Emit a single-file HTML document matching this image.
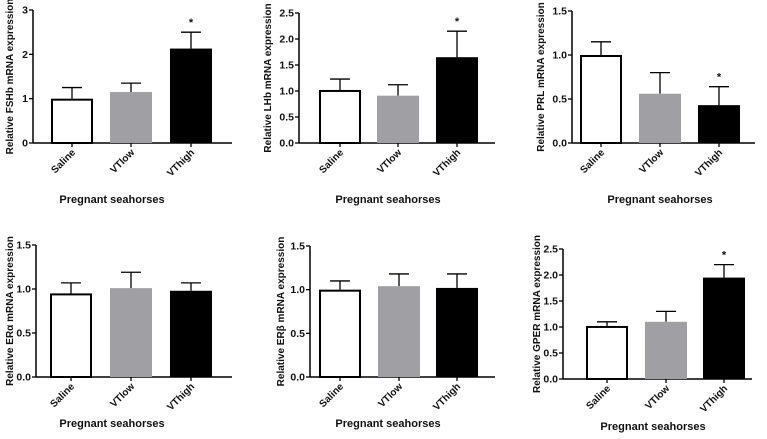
<!DOCTYPE html>
<html><head><meta charset="utf-8"><style>
body{margin:0;background:#fff;width:767px;height:434px;overflow:hidden}
svg text{font-family:"Liberation Sans",Arial,sans-serif;font-weight:bold;fill:#111}
</style></head><body>
<svg id="c" width="767" height="434"></svg>
<script>
const categories=["Saline","VTlow","VThigh"];
const fshbMeans=[1.0,1.15,2.13], fshbErr=[0.25,0.2,0.37], fshbStar=[0,0,1];
const lhbMeans=[1.02,0.91,1.65], lhbErr=[0.21,0.21,0.5], lhbStar=[0,0,1];
const prlMeans=[1.0,0.56,0.43], prlErr=[0.15,0.24,0.21], prlStar=[0,0,1];
const eraMeans=[0.95,1.01,0.98], eraErr=[0.12,0.18,0.09], eraStar=[0,0,0];
const erbMeans=[1.0,1.04,1.02], erbErr=[0.1,0.14,0.16], erbStar=[0,0,0];
const gperMeans=[1.02,1.1,1.95], gperErr=[0.08,0.2,0.25], gperStar=[0,0,1];
const fshbTicks=["0","1","2","3"];
const lhbTicks=["0.0","0.5","1.0","1.5","2.0","2.5"];
const prlTicks=["0.0","0.5","1.0","1.5"];
const eraTicks=["0.0","0.5","1.0","1.5"];
const erbTicks=["0.0","0.5","1.0","1.5"];
const gperTicks=["0.0","0.5","1.0","1.5","2.0","2.5"];
const NS="http://www.w3.org/2000/svg";
const svg=document.getElementById('c');
function mk(tag,attrs,parent){const e=document.createElementNS(NS,tag);for(const k in attrs)e.setAttribute(k,attrs[k]);(parent||svg).appendChild(e);return e;}
const fills=["#fff","#a0a0a4","#000"];
function panel(name,ylabel,means,errs,stars,ticks,g){
  const grp=mk('g',{});
  
  
  const tv=ticks.map(Number), ymax=tv[tv.length-1];
  const y=v=>g.y0-(v/ymax)*(g.y0-g.yTop);
  const xs=i=>g.bx[i];
  const ax=mk('line',{x1:g.ax,y1:g.yTop,x2:g.ax,y2:g.y0,stroke:'#000','stroke-width':1.5},grp);
  
  const xa=mk('line',{x1:g.ax,y1:g.y0,x2:g.xEnd,y2:g.y0,stroke:'#000','stroke-width':1.5},grp);
  
  ticks.forEach((t,i)=>{
    const yy=y(tv[i]);
    mk('line',{x1:g.ax-4,y1:yy,x2:g.ax,y2:yy,stroke:'#000','stroke-width':1.3},grp);
    const tx=mk('text',{x:g.ax-5,y:yy+3.5,'text-anchor':'end','font-size':10.5},grp);
    tx.textContent=t;
    
  });
  categories.forEach((c,i)=>{
    const x0=xs(i), w=g.bw, cx=x0+w/2;
    const top=y(means[i]+errs[i]);
    mk('line',{x1:cx,y1:y(means[i]),x2:cx,y2:top,stroke:'#000','stroke-width':1.3},grp);
    mk('line',{x1:cx-10,y1:top,x2:cx+10,y2:top,stroke:'#000','stroke-width':1.3},grp);
    const r=mk('rect',{x:x0+(i==0?1:0),y:y(means[i])+(i==0?1:0),width:w-(i==0?2:0),height:g.y0-y(means[i])-(i==0?1:0),fill:fills[i],stroke:i==0?'#000':'none','stroke-width':2},grp);
    
    mk('line',{x1:cx,y1:g.y0,x2:cx,y2:g.y0+4,stroke:'#000','stroke-width':1.3},grp);
    if(stars[i]){const s=mk('text',{x:cx,y:top-6,'text-anchor':'middle','font-size':11},grp);s.textContent='*';
      }
    const lt=mk('text',{x:cx+4,y:g.y0+10,'text-anchor':'end','font-size':10,transform:`rotate(-45 ${cx+4} ${g.y0+10})`},grp);
    lt.textContent=c;
  });
  const yl=mk('text',{x:0,y:0,'text-anchor':'middle','font-size':10,transform:`translate(${g.ylx},${(g.yTop+g.y0)/2}) rotate(-90)`},grp);
  yl.textContent=ylabel;
  const xt=mk('text',{x:g.tx,y:g.ty,'text-anchor':'middle','font-size':11},grp);
  xt.textContent='Pregnant seahorses';
}
panel('fshb','Relative FSHb mRNA expression',fshbMeans,fshbErr,fshbStar,fshbTicks,{ax:33,yTop:10,y0:143,xEnd:232,bx:[51,110,170],bw:42,ylx:13,tx:112,ty:203});
panel('lhb','Relative LHb mRNA expression',lhbMeans,lhbErr,lhbStar,lhbTicks,{ax:299,yTop:13,y0:143,xEnd:495,bx:[319,377,436],bw:42,ylx:271,tx:388,ty:203});
panel('prl','Relative PRL mRNA expression',prlMeans,prlErr,prlStar,prlTicks,{ax:572,yTop:11,y0:143,xEnd:755,bx:[580,639,698],bw:42,ylx:544,tx:660,ty:203});
panel('era','Relative ERα mRNA expression',eraMeans,eraErr,eraStar,eraTicks,{ax:36,yTop:245,y0:377,xEnd:232,bx:[50,110,170],bw:42,ylx:13,tx:112,ty:427});
panel('erb','Relative ERβ mRNA expression',erbMeans,erbErr,erbStar,erbTicks,{ax:310,yTop:246,y0:377,xEnd:495,bx:[319,378,436],bw:42,ylx:284,tx:388,ty:427});
panel('gper','Relative GPER mRNA expression',gperMeans,gperErr,gperStar,gperTicks,{ax:563,yTop:249,y0:379,xEnd:752,bx:[586,645,703],bw:42,ylx:540,tx:653,ty:430});
</script>
</body></html>
